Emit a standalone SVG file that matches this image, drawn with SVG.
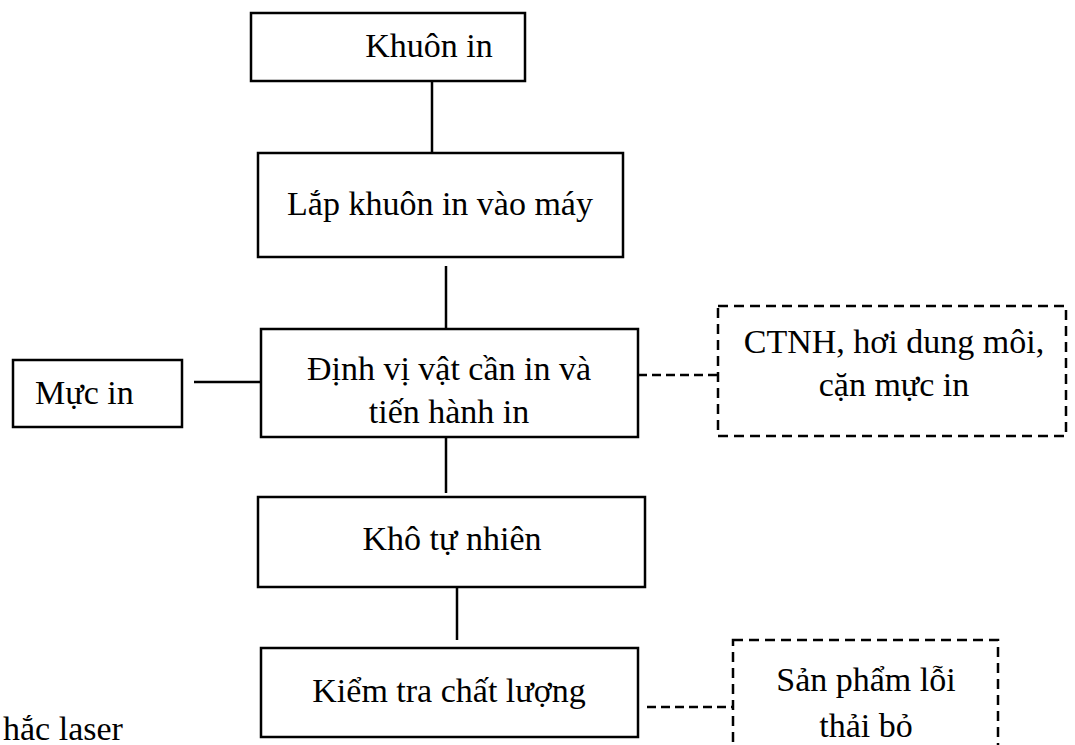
<svg xmlns="http://www.w3.org/2000/svg" width="1075" height="745" viewBox="0 0 1075 745">
<style>
text{font-family:"Liberation Serif","Times New Roman",serif;font-size:34px;fill:#000}
.c{text-anchor:middle}
.box{fill:#fff;stroke:#000;stroke-width:2.5}
.dbox{fill:#fff;stroke:#000;stroke-width:2.5;stroke-dasharray:10 6}
.ln{stroke:#000;stroke-width:2.5;fill:none}
.dl{stroke:#000;stroke-width:2.5;fill:none;stroke-dasharray:9 5}
</style>
<rect width="1075" height="745" fill="#fff"/>
<g id="connectors">
<line class="ln" x1="432" y1="78" x2="432" y2="153"/>
<line class="ln" x1="446" y1="266" x2="446" y2="329"/>
<line class="ln" x1="194" y1="382" x2="261" y2="382"/>
<line class="dl" x1="638" y1="375" x2="718" y2="375"/>
<line class="ln" x1="446" y1="437" x2="446" y2="493"/>
<line class="ln" x1="457" y1="587" x2="457" y2="640"/>
<line class="dl" x1="647" y1="707" x2="733" y2="707"/>
</g>
<g id="khuon-in">
<rect class="box" x="251" y="13" width="274" height="68"/>
<text class="c" x="429" y="57">Khuôn in</text>
</g>
<g id="lap-khuon">
<rect class="box" x="258" y="153" width="365" height="104"/>
<text class="c" x="440" y="215">Lắp khuôn in vào máy</text>
</g>
<g id="dinh-vi">
<rect class="box" x="261" y="329" width="377" height="108"/>
<text class="c" x="449" y="380">Định vị vật cần in và</text>
<text class="c" x="449" y="423">tiến hành in</text>
</g>
<g id="muc-in">
<rect class="box" x="13" y="360" width="169" height="67"/>
<text x="35" y="404">Mực in</text>
</g>
<g id="ctnh">
<rect class="dbox" x="718" y="306" width="348" height="130"/>
<text class="c" x="894" y="353">CTNH, hơi dung môi,</text>
<text class="c" x="894" y="396">cặn mực in</text>
</g>
<g id="kho-tu-nhien">
<rect class="box" x="258" y="497" width="387" height="90"/>
<text class="c" x="452" y="550">Khô tự nhiên</text>
</g>
<g id="kiem-tra">
<rect class="box" x="261" y="648" width="377" height="89"/>
<text class="c" x="449" y="702">Kiểm tra chất lượng</text>
</g>
<g id="san-pham-loi">
<rect class="dbox" x="733" y="640" width="265" height="130"/>
<text class="c" x="866" y="691">Sản phẩm lỗi</text>
<text class="c" x="866" y="737">thải bỏ</text>
</g>
<text x="3" y="740">hắc laser</text>
</svg>
